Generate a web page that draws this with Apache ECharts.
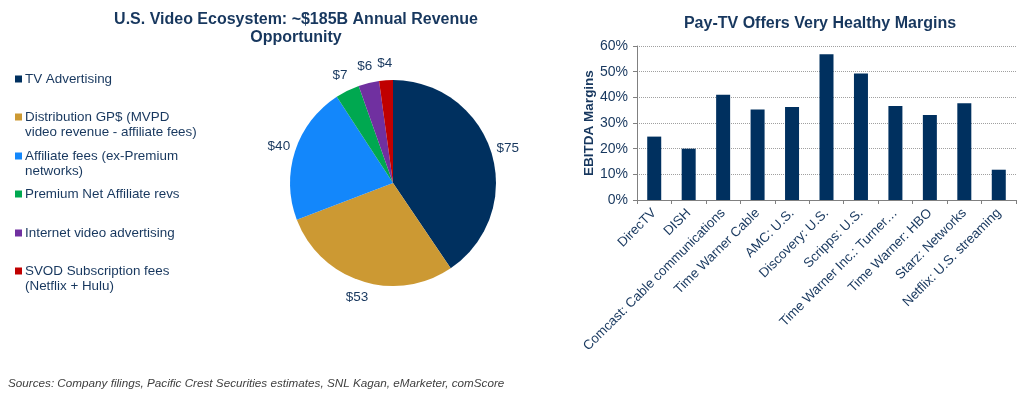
<!DOCTYPE html>
<html>
<head>
<meta charset="utf-8">
<script src="https://cdn.jsdelivr.net/npm/echarts@6/dist/echarts.min.js"></script>
<style>
html,body{margin:0;padding:0;background:#fff;}
#c{width:1024px;height:397px;}
</style>
</head>
<body>
<div id="c"></div>
<script>
// ---- Pie data ----
const pieNames = [
  'TV Advertising',
  'Distribution GP$ (MVPD video revenue - affiliate fees)',
  'Affiliate fees (ex-Premium networks)',
  'Premium Net Affiliate revs',
  'Internet video advertising',
  'SVOD Subscription fees (Netflix + Hulu)'
];
const pieLegendLines = [
  ['TV Advertising'],
  ['Distribution GP$ (MVPD', 'video revenue - affiliate fees)'],
  ['Affiliate fees (ex-Premium', 'networks)'],
  ['Premium Net Affiliate revs'],
  ['Internet video advertising'],
  ['SVOD Subscription fees', '(Netflix + Hulu)']
];
const pieValues = [75, 53, 40, 7, 6, 4];
const pieColors = ['#00305F', '#CC9933', '#1387FB', '#00A850', '#7030A0', '#C00000'];

// ---- Bar data ----
const barCategories = [
  'DirecTV', 'DISH', 'Comcast: Cable communications', 'Time Warner Cable',
  'AMC: U.S.', 'Discovery: U.S.', 'Scripps: U.S.', 'Time Warner Inc.: Turner\u2026',
  'Time Warner: HBO', 'Starz: Networks', 'Netflix: U.S. streaming'
];
const barValues = [24.7, 20.0, 41.0, 35.3, 36.2, 56.8, 49.3, 36.6, 33.1, 37.7, 11.8];
const yTicks = [0, 10, 20, 30, 40, 50, 60];

const NAVY_TEXT = '#17375E';
const FONT = 'Liberation Sans, Arial, sans-serif';

const legendCenters = [79, 117, 156, 194, 233, 271];
const LH = 15;

const legends = pieNames.map(function (n, i) {
  const lines = pieLegendLines[i];
  const nLines = lines.length === 1 ? 1 : 3;
  return {
    data: [n],
    left: 15,
    top: legendCenters[i] - nLines * LH / 2,
    orient: 'vertical',
    icon: 'rect',
    itemWidth: 7,
    itemHeight: 7,
    selectedMode: false,
    padding: 0,
    formatter: function () {
      return lines.length === 1 ? lines[0] : '\n' + lines.join('\n');
    },
    textStyle: { color: NAVY_TEXT, fontSize: 13.4, fontFamily: FONT, lineHeight: LH, padding: [0, 0, 0, -2] }
  };
});

const chart = echarts.init(document.getElementById('c'), null, { renderer: 'canvas' });
chart.setOption({
  animation: false,
  textStyle: { fontFamily: FONT },
  title: [
    {
      text: 'U.S. Video Ecosystem: ~$185B Annual Revenue\nOpportunity',
      left: 291, top: 6, textAlign: 'center',
      textStyle: { color: NAVY_TEXT, fontSize: 16, fontWeight: 'bold', fontFamily: FONT, lineHeight: 18 }
    },
    {
      text: 'Pay-TV Offers Very Healthy Margins',
      left: 815, top: 11, textAlign: 'center',
      textStyle: { color: NAVY_TEXT, fontSize: 16, fontWeight: 'bold', fontFamily: FONT }
    },
    {
      text: 'Sources: Company filings, Pacific Crest Securities estimates, SNL Kagan, eMarketer, comScore',
      left: 3, top: 373,
      textStyle: { color: '#404040', fontSize: 11.7, fontStyle: 'italic', fontWeight: 'normal', fontFamily: FONT }
    }
  ],
  legend: legends,
  grid: { left: 637, right: 8, top: 46, bottom: 197, containLabel: false },
  xAxis: {
    type: 'category',
    data: barCategories,
    axisLine: { lineStyle: { color: '#808080', width: 1 } },
    axisTick: { show: true, alignWithLabel: false, length: 4, lineStyle: { color: '#808080' } },
    axisLabel: { interval: 0, rotate: 45, color: NAVY_TEXT, fontSize: 13.3, fontFamily: FONT, margin: 11 }
  },
  yAxis: {
    type: 'value',
    min: 0, max: 60, interval: 10,
    name: 'EBITDA Margins',
    nameLocation: 'middle',
    nameGap: 40,
    nameTextStyle: { color: NAVY_TEXT, fontSize: 13.5, fontWeight: 'bold', fontFamily: FONT },
    axisLine: { show: true, lineStyle: { color: '#808080', width: 1 } },
    axisTick: { show: true, length: 4, lineStyle: { color: '#808080' } },
    axisLabel: { color: NAVY_TEXT, fontSize: 14, fontFamily: FONT, margin: 9,
      formatter: function (v) { return yTicks.indexOf(v) >= 0 ? v + '%' : ''; } },
    splitLine: { show: true, lineStyle: { color: '#A0A0A0', type: [1, 1], width: 1 } }
  },
  series: [
    {
      type: 'pie',
      center: [393, 183],
      radius: 103,
      startAngle: 90,
      clockwise: true,
      avoidLabelOverlap: false,
      data: pieNames.map(function (n, i) {
        return { name: n, value: pieValues[i], itemStyle: { color: pieColors[i] } };
      }),
      label: {
        show: true, position: 'outside',
        formatter: function (p) { return '$' + p.value; },
        color: NAVY_TEXT, fontSize: 13.5, fontFamily: FONT,
        distanceToLabelLine: 0
      },
      labelLine: { show: false, length: 17, length2: 0 },
      labelLayout: { align: 'center', verticalAlign: 'middle' },
      emphasis: { disabled: true }
    },
    {
      type: 'bar',
      data: barValues,
      barWidth: 14,
      itemStyle: { color: '#00305F' }
    }
  ]
});
</script>
</body>
</html>
